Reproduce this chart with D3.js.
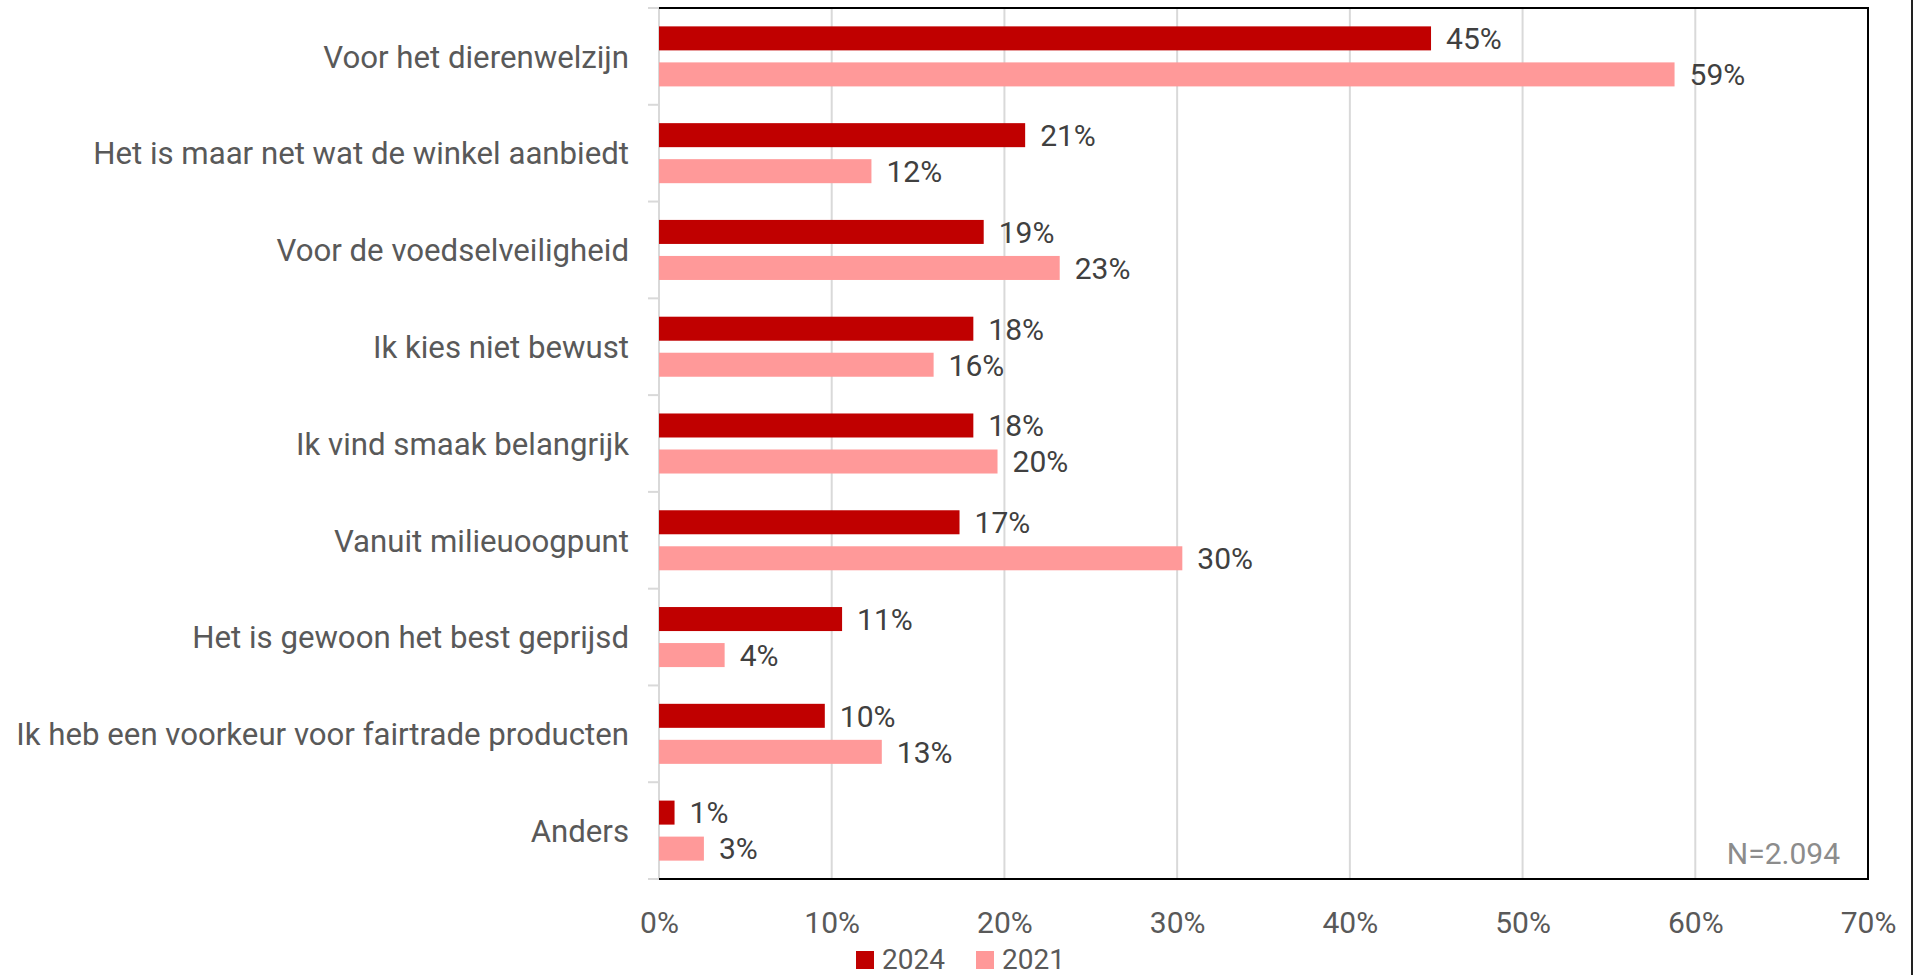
<!DOCTYPE html>
<html>
<head>
<meta charset="utf-8">
<script src="https://cdn.jsdelivr.net/npm/d3@7"></script>
<style>
    html, body { margin: 0; padding: 0; background: #fff; }
    svg { display: block; font-family: Roboto, "Noto Sans", sans-serif; }
</style>
</head>
<body>
<div id="chart"></div>
<script>
// categories top to bottom
const categories = [
    'Voor het dierenwelzijn',
    'Het is maar net wat de winkel aanbiedt',
    'Voor de voedselveiligheid',
    'Ik kies niet bewust',
    'Ik vind smaak belangrijk',
    'Vanuit milieuoogpunt',
    'Het is gewoon het best geprijsd',
    'Ik heb een voorkeur voor fairtrade producten',
    'Anders'
];
const seriesNames = ['2024', '2021'];
const values2024 = [44.7, 21.2, 18.8, 18.2, 18.2, 17.4, 10.6, 9.6, 0.9];
const values2021 = [58.8, 12.3, 23.2, 15.9, 19.6, 30.3, 3.8, 12.9, 2.6];
const xTicks = [0, 10, 20, 30, 40, 50, 60, 70];
const noteText = 'N=2.094';

const colors = { '2024': '#c00000', '2021': '#ff9999' };

const W = 1916, H = 975;
const plot = { left: 659, right: 1868, top: 8, bottom: 879 };

const svg = d3.select('#chart').append('svg')
    .attr('width', W)
    .attr('height', H);

const x = d3.scaleLinear().domain([0, 70]).range([plot.left, plot.right]);
const y = d3.scaleBand().domain(categories).range([plot.top, plot.bottom]).paddingInner(0).paddingOuter(0);
const ySub = d3.scaleBand().domain(seriesNames).range([0, y.bandwidth()])
    .paddingInner(1 / 3).paddingOuter(0.51);

// vertical grid lines
svg.append('g')
    .selectAll('line')
    .data(xTicks.filter(t => t > 0 && t < 70))
    .join('line')
    .attr('x1', d => x(d)).attr('x2', d => x(d))
    .attr('y1', plot.top).attr('y2', plot.bottom)
    .attr('stroke', '#d9d9d9')
    .attr('stroke-width', 2);

// left axis line with ticks at category boundaries
const boundaries = categories.map(c => y(c)).concat([plot.bottom]);
const leftAxis = svg.append('g');
leftAxis.append('line')
    .attr('x1', plot.left).attr('x2', plot.left)
    .attr('y1', plot.top).attr('y2', plot.bottom)
    .attr('stroke', '#d9d9d9').attr('stroke-width', 2);
leftAxis.selectAll('line.tick')
    .data(boundaries)
    .join('line')
    .attr('class', 'tick')
    .attr('x1', plot.left - 11).attr('x2', plot.left)
    .attr('y1', d => d).attr('y2', d => d)
    .attr('stroke', '#d9d9d9').attr('stroke-width', 2);

// bars
const rows = categories.map((c, i) => ({ cat: c, '2024': values2024[i], '2021': values2021[i] }));
const groups = svg.append('g')
    .selectAll('g')
    .data(rows)
    .join('g')
    .attr('transform', d => `translate(0,${y(d.cat)})`);

groups.selectAll('rect')
    .data(d => seriesNames.map(s => ({ s, v: d[s] })))
    .join('rect')
    .attr('x', x(0))
    .attr('y', d => ySub(d.s))
    .attr('width', d => x(d.v) - x(0))
    .attr('height', ySub.bandwidth())
    .attr('fill', d => colors[d.s]);

groups.selectAll('text')
    .data(d => seriesNames.map(s => ({ s, v: d[s] })))
    .join('text')
    .attr('x', d => x(d.v) + 15)
    .attr('y', d => ySub(d.s) + ySub.bandwidth() / 2)
    .attr('dy', '0.36em')
    .attr('font-size', 30)
    .attr('fill', '#404040')
    .text(d => Math.round(d.v) + '%');

// plot frame: top, right, bottom in black
svg.append('path')
    .attr('d', `M${plot.left},${plot.top}H${plot.right}V${plot.bottom}H${plot.left}`)
    .attr('fill', 'none')
    .attr('stroke', '#000')
    .attr('stroke-width', 2);

// category labels
svg.append('g')
    .selectAll('text')
    .data(categories)
    .join('text')
    .attr('x', 629)
    .attr('y', d => y(d) + y.bandwidth() / 2)
    .attr('dy', '0.36em')
    .attr('text-anchor', 'end')
    .attr('font-size', 31.2)
    .attr('fill', '#595959')
    .text(d => d);

// x axis labels
const xAxis = d3.axisBottom(x)
    .tickValues(xTicks)
    .tickFormat(d => d + '%')
    .tickSize(0)
    .tickPadding(0);
const xg = svg.append('g')
    .attr('transform', `translate(0,${plot.bottom})`)
    .call(xAxis);
xg.select('.domain').remove();
xg.selectAll('text')
    .attr('font-size', 30)
    .attr('font-family', 'Roboto, "Noto Sans", sans-serif')
    .attr('fill', '#595959')
    .attr('dy', null)
    .attr('y', 54);

// sample size note
svg.append('text')
    .attr('x', plot.right - 28)
    .attr('y', 864)
    .attr('text-anchor', 'end')
    .attr('font-size', 30)
    .attr('fill', '#8c8c8c')
    .text(noteText);

// legend
const legendX = [856, 976];
const legend = svg.append('g')
    .selectAll('g')
    .data(seriesNames)
    .join('g')
    .attr('transform', (d, i) => `translate(${legendX[i]},951)`);
legend.append('rect')
    .attr('width', 18).attr('height', 18)
    .attr('fill', d => colors[d]);
legend.append('text')
    .attr('x', 26)
    .attr('y', 18)
    .attr('font-size', 28)
    .attr('fill', '#595959')
    .text(d => d);

// outer right edge line
svg.append('line')
    .attr('x1', 1912).attr('x2', 1912)
    .attr('y1', 0).attr('y2', H)
    .attr('stroke', '#222')
    .attr('stroke-width', 2);
</script>
</body>
</html>
